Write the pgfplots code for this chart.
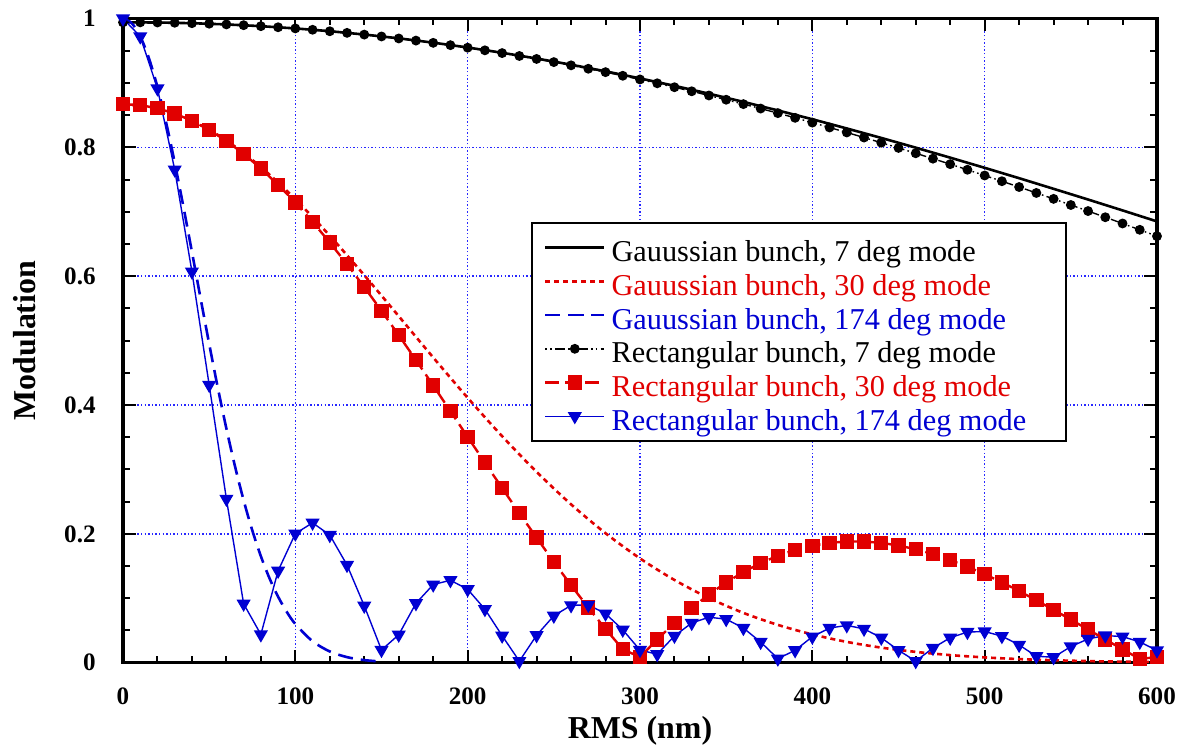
\documentclass[border=0pt]{standalone}
\usepackage{fontspec}
\setmainfont{Liberation Serif}
\usepackage{pgfplots}
\pgfplotsset{compat=1.18}
\definecolor{myred}{RGB}{225,0,0}
\definecolor{myblue}{RGB}{0,0,210}
\definecolor{gridblue}{RGB}{40,40,255}
\pgfplotsset{
  legend image code/.code={%
    \draw[mark repeat=2,mark phase=2,#1] plot coordinates {(0bp,0bp) (14.75bp,0bp) (29.5bp,0bp)};%
  },
}
\begin{document}
\begin{tikzpicture}
\useasboundingbox (-61.5bp,-44.65bp) rectangle (527.5bp,331.35bp);
\begin{axis}[
  at={(0,0)}, anchor=south west,
  scale only axis, width=517bp, height=322.1bp,
  xmin=0, xmax=600, ymin=0, ymax=1,
  xtick={0,100,...,600}, ytick={0,0.2,0.4,0.6,0.8,1},
  minor x tick num=4, minor y tick num=3,
  tick align=inside,
  major tick length=6.5bp, minor tick length=3.5bp,
  every tick/.style={black, line width=1bp},
  axis line style={line width=1.6bp},
  grid=major,
  major grid style={gridblue, line width=0.7bp, dash pattern=on 0.7bp off 1.1bp},
  /pgf/number format/assume math mode=true,
  ticklabel style={font=\fontsize{12.6}{14}\selectfont\bfseries, inner sep=0pt},
  xticklabel style={anchor=north, yshift=-12.5bp},
  yticklabel style={anchor=east, xshift=-13.5bp},
  xlabel={RMS (nm)}, ylabel={Modulation},
  label style={font=\fontsize{16}{19}\selectfont\bfseries},
  xlabel style={at={(axis description cs:0.5,-0.117)}, anchor=base},
  ylabel style={at={(axis description cs:-0.0851,0.5)}, anchor=base},
  clip=false,
  legend cell align=left,
  legend style={at={(0.3946,0.684)}, anchor=north west, draw=black, line width=1bp,
    inner xsep=6bp, inner ysep=3.9bp, row sep=0pt, column sep=3bp,
    font=\fontsize{15.2}{17}\selectfont,
    nodes={inner sep=0pt, text height=15.45bp, text depth=1.4bp}},
]
% Gaussian bunch, 7 deg mode
\addplot[black, line width=1.3bp] table {
0 0.9940
20 0.9938
40 0.9927
60 0.9908
80 0.9881
100 0.9846
120 0.9803
140 0.9751
160 0.9692
180 0.9625
200 0.9550
220 0.9468
240 0.9379
260 0.9283
280 0.9180
300 0.9070
320 0.8955
340 0.8833
360 0.8706
380 0.8573
400 0.8436
420 0.8293
440 0.8146
460 0.7995
480 0.7840
500 0.7682
520 0.7521
540 0.7356
560 0.7190
580 0.7021
600 0.6850
};
\addlegendentry{Gauussian bunch, 7 deg mode}
% Gaussian bunch, 30 deg mode
\addplot[myred, line width=1.3bp, dash pattern=on 2.5bp off 2bp, smooth] table {
0 0.8670
20 0.8606
40 0.8415
60 0.8107
80 0.7695
100 0.7195
120 0.6628
140 0.6015
160 0.5379
180 0.4738
200 0.4112
220 0.3516
240 0.2962
260 0.2458
280 0.2010
300 0.1619
320 0.1284
340 0.1004
360 0.0773
380 0.0587
400 0.0439
420 0.0323
440 0.0234
460 0.0168
480 0.0118
500 0.0082
520 0.0056
540 0.0038
560 0.0025
580 0.0016
600 0.0011
};
\addlegendentry{\textcolor{myred}{Gauussian bunch, 30 deg mode}}
% Gaussian bunch, 174 deg mode
\addplot[myblue, line width=1.3bp, dash pattern=on 7.5bp off 4bp, smooth] table {
0 1.0000
5 0.99299
10 0.97227
15 0.93868
20 0.89361
25 0.83882
30 0.77638
35 0.70855
40 0.63765
45 0.56582
50 0.49509
55 0.42713
60 0.36335
65 0.30479
70 0.25210
75 0.20560
80 0.16533
85 0.13110
90 0.10249
95 0.07905
100 0.06009
110 0.03329
120 0.01743
130 0.00864
140 0.00404
150 0.00179
};
\addlegendentry{\textcolor{myblue}{Gauussian bunch, 174 deg mode}}
% Rectangular bunch, 7 deg mode
\addplot[black, line width=0.7bp, dash pattern=on 0.8bp off 1.6bp on 0.8bp off 1.6bp on 5bp off 1.6bp,
  mark=*, mark size=2.1bp, mark options={solid, fill=black}] table {
0 0.9940
10 0.9940
20 0.9938
30 0.9934
40 0.9927
50 0.9919
60 0.9908
70 0.9896
80 0.9881
90 0.9864
100 0.9846
110 0.9825
120 0.9802
130 0.9777
140 0.9750
150 0.9721
160 0.9690
170 0.9657
180 0.9622
190 0.9586
200 0.9547
210 0.9506
220 0.9463
230 0.9418
240 0.9372
250 0.9323
260 0.9273
270 0.9220
280 0.9167
290 0.9111
300 0.9054
310 0.8994
320 0.8933
330 0.8870
340 0.8805
350 0.8739
360 0.8671
370 0.8602
380 0.8531
390 0.8458
400 0.8384
410 0.8308
420 0.8231
430 0.8152
440 0.8072
450 0.7991
460 0.7908
470 0.7824
480 0.7739
490 0.7652
500 0.7563
510 0.7474
520 0.7384
530 0.7292
540 0.7200
550 0.7105
560 0.7011
570 0.6915
580 0.6818
590 0.6720
600 0.6621
};
\addlegendentry{Rectangular bunch, 7 deg mode}
% Rectangular bunch, 30 deg mode
\addplot[myred, line width=1.2bp, dash pattern=on 7bp off 3bp,
  mark=square*, mark size=3bp, mark options={solid, fill=myred, draw=myred}] table {
0 0.8670
10 0.8655
20 0.8607
30 0.8525
40 0.8413
50 0.8271
60 0.8099
70 0.7900
80 0.7671
90 0.7418
100 0.7142
110 0.6842
120 0.6523
130 0.6185
140 0.5831
150 0.5463
160 0.5084
170 0.4697
180 0.4303
190 0.3905
200 0.3504
210 0.3105
220 0.2711
230 0.2320
240 0.1941
250 0.1564
260 0.1202
270 0.0855
280 0.0523
290 0.0209
300 0.0087
310 0.0362
320 0.0617
330 0.0849
340 0.1059
350 0.1245
360 0.1408
370 0.1546
380 0.1660
390 0.1750
400 0.1816
410 0.1860
420 0.1881
430 0.1881
440 0.1860
450 0.1819
460 0.1761
470 0.1686
480 0.1595
490 0.1491
500 0.1374
510 0.1247
520 0.1112
530 0.0969
540 0.0821
550 0.0669
560 0.0515
570 0.0361
580 0.0208
590 0.0059
600 0.0087
};
\addlegendentry{\textcolor{myred}{Rectangular bunch, 30 deg mode}}
% Rectangular bunch, 174 deg mode
\addplot[myblue, line width=0.7bp,
  mark=triangle*, mark size=3.4bp, mark options={solid, rotate=180, fill=myblue, draw=myblue}] table {
0 1.0000
10 0.9721
20 0.8913
30 0.7654
40 0.6070
50 0.4312
60 0.2543
70 0.0915
80 0.0438
90 0.1426
100 0.2003
110 0.2172
120 0.1981
130 0.1516
140 0.0883
150 0.0197
160 0.0434
170 0.0922
180 0.1212
190 0.1280
200 0.1139
210 0.0831
220 0.0419
230 0.0024
240 0.0426
250 0.0728
260 0.0890
270 0.0898
280 0.0761
290 0.0511
300 0.0196
310 0.0131
320 0.0416
330 0.0616
340 0.0706
350 0.0676
360 0.0538
370 0.0321
380 0.0063
390 0.0192
400 0.0403
410 0.0538
420 0.0579
430 0.0525
440 0.0387
450 0.0193
460 0.0024
470 0.0228
480 0.0387
490 0.0476
500 0.0484
510 0.0412
520 0.0276
530 0.0100
540 0.0085
550 0.0250
560 0.0369
570 0.0422
580 0.0405
590 0.0323
600 0.0190
};
\addlegendentry{\textcolor{myblue}{Rectangular bunch, 174 deg mode}\hspace*{14bp}}
\end{axis}
\end{tikzpicture}
\end{document}
